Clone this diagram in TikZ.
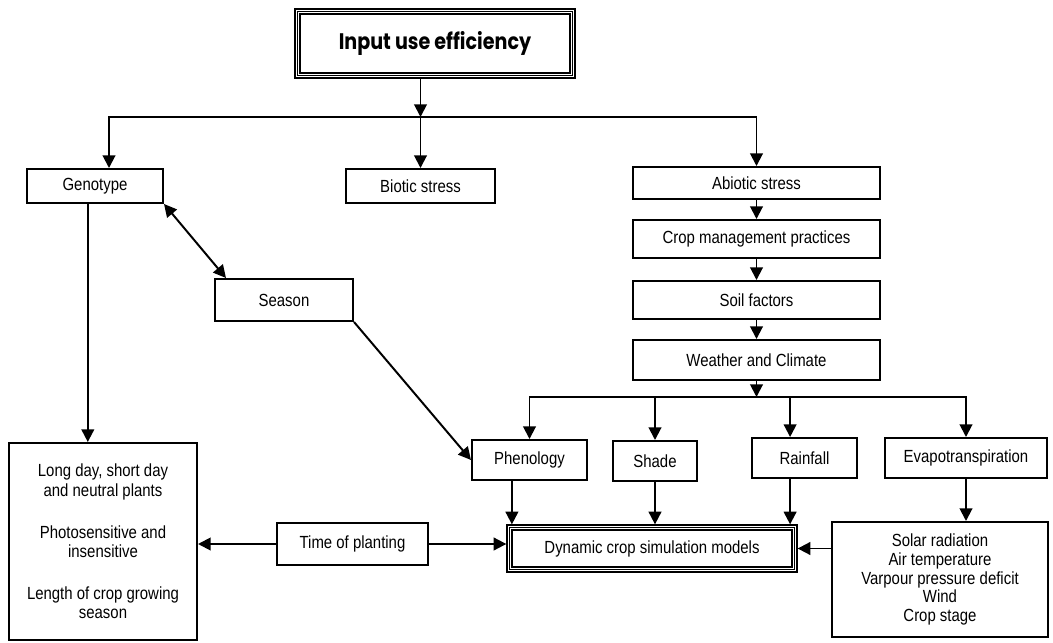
\documentclass[tikz,border=0pt]{standalone}
\usepackage{fontspec}
\setmainfont{Liberation Sans}[FakeStretch=0.85]
\newfontfamily\titlefont{Poppins}[FakeStretch=0.85]
\usetikzlibrary{arrows.meta}

\tikzset{
	box/.style={draw, line width=1.4pt, inner sep=2pt, align=center,
		font=\fontsize{12.5}{14}\selectfont},
	framebox/.style={box, line width=0.9pt},
	innerframe/.style={draw, double, double distance=1.3pt, line width=0.8pt},
	link/.style={line width=1.4pt, -{Triangle[width=9pt,length=9pt]}},
	twolink/.style={line width=1.4pt, {Triangle[width=9pt,length=9pt]}-{Triangle[width=9pt,length=9pt]}}
}

\begin{document}
\begin{tikzpicture}[x=0.025cm, y=-0.025cm]

		\useasboundingbox (0,0) rectangle (1053,643);

		% top of the chart
		\node (title) [framebox, minimum width=7cm, minimum height=1.725cm,
			font=\titlefont\bfseries\fontsize{16}{18}\selectfont] at (435,43.5) {Input use efficiency};
		\draw [innerframe] ([shift={(3pt,-3pt)}]title.north west) rectangle ([shift={(-3pt,3pt)}]title.south east);

		\node (geno)    [box, minimum width=3.4cm,   minimum height=0.85cm] at (95,186)    {Genotype};
		\node (biotic)  [box, minimum width=3.725cm, minimum height=0.85cm] at (420.5,186) {Biotic stress};
		\node (abiotic) [box, minimum width=6.175cm, minimum height=0.8cm]  at (756.5,183) {Abiotic stress};

		% abiotic chain
		\node (manage)  [box, minimum width=6.175cm, minimum height=0.95cm] at (756.5,239) {Crop management practices};
		\node (soil)    [box, minimum width=6.175cm, minimum height=0.95cm] at (756.5,300) {Soil factors};
		\node (weather) [box, minimum width=6.175cm, minimum height=1cm]    at (756.5,360) {Weather and Climate};

		\node (season)  [box, minimum width=3.45cm,  minimum height=1.05cm] at (284,300)   {Season};

		% weather components
		\node (phen)  [box, minimum width=2.875cm, minimum height=1cm] at (529.5,460) {Phenology};
		\node (shade) [box, minimum width=2.1cm,   minimum height=1cm] at (655,461)   {Shade};
		\node (rain)  [box, minimum width=2.625cm, minimum height=1cm] at (804.5,458) {Rainfall};
		\node (evap)  [box, minimum width=4.05cm,  minimum height=1cm] at (966,458)   {Evapotranspiration};

		% bottom row
		\node (dyn) [framebox, minimum width=7.25cm, minimum height=1.175cm] at (652,548.5) {Dynamic crop simulation models};
		\draw [innerframe] ([shift={(3pt,-3pt)}]dyn.north west) rectangle ([shift={(-3pt,3pt)}]dyn.south east);

		\node (plant) [box, minimum width=3.775cm, minimum height=1.05cm] at (352.5,544) {Time of planting};

		\node (photo) [box, minimum width=4.7cm, minimum height=4.925cm,
			font=\fontsize{12.5}{13.8}\selectfont] at (103,541.5)
			{Long day, short day\\and neutral plants\\[16pt]Photosensitive and\\insensitive\\[16pt]Length of crop growing\\season};

		\node (elements) [box, minimum width=5.4cm, minimum height=2.875cm,
			font=\fontsize{12.5}{13.2}\selectfont] at (940,579.5)
			{Solar radiation\\Air temperature\\Varpour pressure deficit\\Wind\\Crop stage};

		% connectors
		\coordinate (topbus) at (420.5,117);
		\draw [link] (title.south -| topbus) -- (topbus);
		\draw [link] (topbus) -- (biotic.north);
		\draw [link] (topbus) -| ([xshift=0.35cm]geno.north);
		\draw [link] (topbus) -| (abiotic.north);

		\draw [link] (abiotic) -- (manage);
		\draw [link] (manage)  -- (soil);
		\draw [link] (soil)    -- (weather);

		\coordinate (midbus) at (756.5,397);
		\draw [link] (weather) -- (midbus);
		\draw [link] (midbus) -| (phen.north);
		\draw [link] (midbus) -| (shade.north);
		\draw [link] (midbus) -| ([xshift=-0.36cm]rain.north);
		\draw [link] (midbus) -| (evap.north);

		\draw [link] ([xshift=-0.44cm]phen.south) -- ([xshift=-0.44cm]phen.south |- dyn.north);
		\draw [link] (shade.south) -- (shade.south |- dyn.north);
		\draw [link] ([xshift=-0.36cm]rain.south) -- ([xshift=-0.36cm]rain.south |- dyn.north);
		\draw [link] (evap.south) -- (evap.south |- elements.north);
		\draw [link] (elements.west |- dyn.east) -- (dyn.east);

		\draw [link] (plant) -- (plant -| photo.east);
		\draw [link] (plant) -- (plant -| dyn.west);

		\draw [link] ([xshift=-0.18cm]geno.south) -- ([xshift=-0.18cm]geno.south |- photo.north);
		\draw [twolink] (geno.south east) -- ([xshift=0.3cm]season.north west);
		\draw [link] (season.south east) -- (phen.west);

\end{tikzpicture}
\end{document}
